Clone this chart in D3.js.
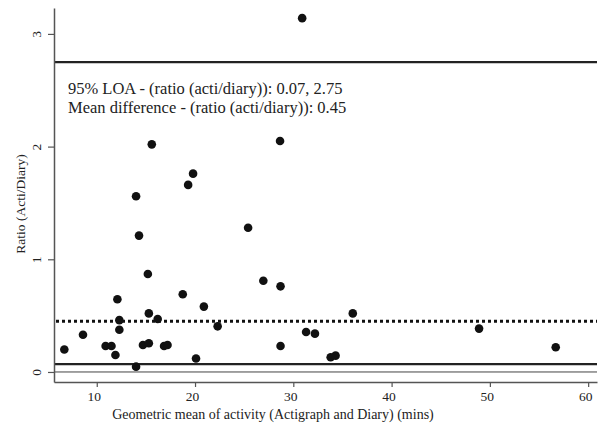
<!DOCTYPE html>
<html>
<head>
<meta charset="utf-8">
<script src="https://cdn.jsdelivr.net/npm/d3@7"></script>
<style>
  body { margin: 0; background: #fff; }
  text { font-family: "Liberation Serif", "Times New Roman", serif; fill: #222; }
</style>
</head>
<body>
<svg id="chart" width="601" height="423"></svg>
<script>
// geometric mean (mins) and ratio acti/diary
const geoMean = [15.6, 19.8, 19.3, 14.0, 14.3, 25.4, 15.2, 18.75, 12.1, 20.9,
                 15.3, 12.3, 16.2, 22.3, 12.3, 8.6, 6.7, 10.9, 11.5, 11.9,
                 14.7, 15.3, 16.85, 17.2, 20.1, 14.0, 30.9, 28.65, 26.95, 28.7,
                 36.05, 31.3, 32.2, 28.7, 33.8, 34.3, 48.9, 56.7];
const ratio = [2.02, 1.76, 1.66, 1.56, 1.21, 1.28, 0.87, 0.69, 0.645, 0.58,
               0.52, 0.46, 0.47, 0.405, 0.375, 0.33, 0.20, 0.23, 0.23, 0.15,
               0.24, 0.255, 0.23, 0.24, 0.12, 0.047, 3.14, 2.05, 0.81, 0.76,
               0.52, 0.355, 0.34, 0.23, 0.13, 0.145, 0.385, 0.22];
const loa = [0.07, 2.75];
const meanDiff = 0.45;
const xTicks = [10, 20, 30, 40, 50, 60];
const yTicks = [0, 1, 2, 3];

const svg = d3.select('#chart');

const x = d3.scaleLinear().domain([5.65, 60.9]).range([54, 597]);
const y = d3.scaleLinear().domain([-0.089, 3.23]).range([382, 8]);

// zero line (thin)
svg.append('line')
    .attr('x1', x.range()[0]).attr('x2', x.range()[1])
    .attr('y1', y(0)).attr('y2', y(0))
    .attr('stroke', '#444').attr('stroke-width', 1);

// limits of agreement
svg.selectAll('line.loa')
    .data(loa)
    .join('line')
    .attr('class', 'loa')
    .attr('x1', x.range()[0]).attr('x2', x.range()[1])
    .attr('y1', d => y(d)).attr('y2', d => y(d))
    .attr('stroke', '#222').attr('stroke-width', 2.2);

// mean difference (dotted)
svg.append('line')
    .attr('x1', x.range()[0] + 2).attr('x2', x.range()[1])
    .attr('y1', y(meanDiff)).attr('y2', y(meanDiff))
    .attr('stroke', '#111').attr('stroke-width', 3)
    .attr('stroke-dasharray', '3,3');

// axes
const xAxis = svg.append('g')
    .attr('transform', `translate(0,${y.range()[0]})`)
    .call(d3.axisBottom(x).tickValues(xTicks).tickSize(5).tickSizeOuter(0));
const yAxis = svg.append('g')
    .attr('transform', `translate(${x.range()[0]},0)`)
    .call(d3.axisLeft(y).tickValues(yTicks).tickFormat(d3.format('d')).tickSize(6).tickSizeOuter(0));

[xAxis, yAxis].forEach(g => {
    g.select('.domain').attr('stroke', '#555').attr('stroke-width', 1.5);
    g.selectAll('.tick line').attr('stroke', '#555').attr('stroke-width', 1.2);
    g.selectAll('.tick text')
        .style('font-family', '"Liberation Serif", serif')
        .style('font-size', '13.5px')
        .attr('fill', '#222');
});
xAxis.selectAll('.tick text').attr('y', 9).attr('dy', '0.71em').attr('x', -3);
yAxis.selectAll('.tick text')
    .attr('x', null)
    .attr('text-anchor', 'middle')
    .attr('transform', 'translate(-18,0) rotate(-90)')
    .attr('dy', '0.35em');

// points
svg.selectAll('circle.pt')
    .data(geoMean.map((g, i) => [g, ratio[i]]))
    .join('circle')
    .attr('class', 'pt')
    .attr('cx', d => x(d[0]))
    .attr('cy', d => y(d[1]))
    .attr('r', 4.3)
    .attr('fill', '#111');

// annotation
svg.append('text')
    .attr('x', 68).attr('y', 94)
    .style('font-size', '16.5px')
    .text(`95% LOA - (ratio (acti/diary)): ${loa[0].toFixed(2)}, ${loa[1].toFixed(2)}`);
svg.append('text')
    .attr('x', 68).attr('y', 113)
    .style('font-size', '16.5px')
    .text(`Mean difference - (ratio (acti/diary)): ${meanDiff.toFixed(2)}`);

// axis titles
svg.append('text')
    .attr('text-anchor', 'middle')
    .attr('transform', 'translate(25,204) rotate(-90)')
    .style('font-size', '13.5px')
    .text('Ratio (Acti/Diary)');
svg.append('text')
    .attr('x', 273).attr('y', 419)
    .attr('text-anchor', 'middle')
    .style('font-size', '14px')
    .text('Geometric mean of activity (Actigraph and Diary) (mins)');
</script>
</body>
</html>
